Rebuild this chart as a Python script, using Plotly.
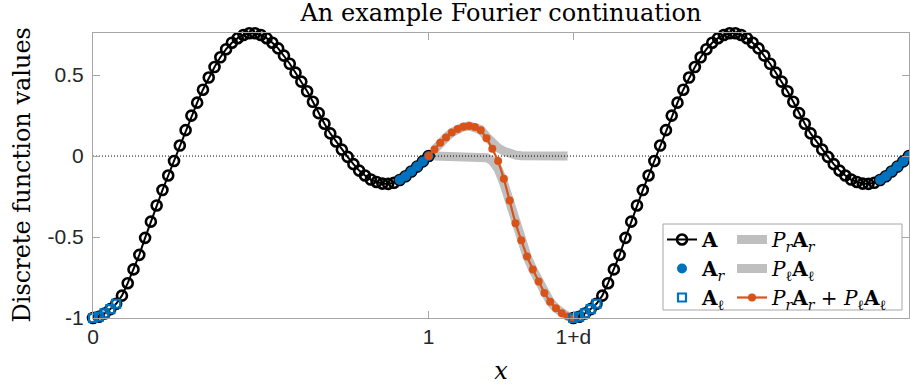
import numpy as np
import plotly.graph_objects as go

# ---- data ----
n_int = 58            # intervals on [0, 1]
n_cont = 25           # intervals on the continuation [1, 1+d]
h = 1.0 / n_int
d = n_cont * h
period = 1.0 + d

A_vals = [-1.000, -0.992, -0.972, -0.945, -0.912, -0.862, -0.785, -0.700, -0.610, -0.505,
          -0.405, -0.305, -0.210, -0.120, -0.030, 0.065, 0.160, 0.250, 0.330, 0.410,
          0.485, 0.550, 0.610, 0.660, 0.700, 0.728, 0.748, 0.758, 0.758, 0.748,
          0.728, 0.700, 0.665, 0.620, 0.570, 0.515, 0.460, 0.400, 0.335, 0.265,
          0.200, 0.140, 0.090, 0.040, -0.005, -0.050, -0.090, -0.120, -0.145, -0.160,
          -0.170, -0.172, -0.165, -0.148, -0.125, -0.095, -0.065, -0.033, 0.000]

sum_vals = [0.000, 0.040, 0.083, 0.114, 0.145, 0.167, 0.181, 0.186, 0.180, 0.160,
            0.110, 0.045, -0.030, -0.140, -0.275, -0.415, -0.520, -0.620, -0.700, -0.775,
            -0.845, -0.900, -0.940, -0.970, -0.990, -1.000]

PrAr_vals = [0.040, 0.083, 0.114, 0.145, 0.167, 0.181, 0.186, 0.181, 0.163, 0.120,
             0.075, 0.050, 0.030, 0.015, 0.006, 0.002, 0.0, 0.0, 0.0, 0.0,
             0.0, 0.0, 0.0, 0.0]

PlAl_vals = [0.0, 0.0, 0.0, 0.0, 0.0, 0.0, 0.0, -0.001, -0.003, -0.010,
             -0.030, -0.080, -0.170, -0.290, -0.421, -0.522, -0.620, -0.700, -0.775, -0.845,
             -0.900, -0.940, -0.970, -0.990]

n_r = 6   # matching points at the right end (A_r)
n_l = 5   # matching points at the left end (A_l)

x_ticks = [0, 1, 1 + d]
x_ticktext = ["0", "1", "1+d"]
y_ticks = [-1, -0.5, 0, 0.5]
y_ticktext = ["-1", "-0.5", "0", "0.5"]

# ---- grids ----
x_A = np.arange(n_int + 1) * h
x_sum = 1 + np.arange(n_cont + 1) * h
x_P = 1 + np.arange(1, n_cont) * h

def two_periods(x, y):
    xs = list(x) + [None] + list(np.asarray(x) + period)
    ys = list(y) + [None] + list(y)
    return xs, ys

BLUE = "#0072BD"
ORANGE = "#D95319"
GRAY = "#BFBFBF"
AXC = "#A6A6A6"
SERIF = "DejaVu Serif"
SANS = "Liberation Sans"

fig = go.Figure()

# gray projections
fig.add_trace(go.Scatter(x=x_P, y=PrAr_vals, mode="lines", line=dict(color=GRAY, width=9),
                         name="<i>P</i><sub><i>r</i></sub><b>A</b><sub><i>r</i></sub>",
                         legend="legend2", legendgroup="g4", cliponaxis=False))
fig.add_trace(go.Scatter(x=x_P, y=PlAl_vals, mode="lines", line=dict(color=GRAY, width=9),
                         name="<i>P</i><sub>ℓ</sub><b>A</b><sub>ℓ</sub>",
                         legend="legend2", legendgroup="g5", cliponaxis=False))
# zero line
fig.add_trace(go.Scatter(x=[0, 2 + d], y=[0, 0], mode="lines",
                         line=dict(color="black", width=1, dash="1px,2px"),
                         showlegend=False, hoverinfo="skip"))
# A
xa, ya = two_periods(x_A, A_vals)
fig.add_trace(go.Scatter(x=xa, y=ya, mode="lines+markers",
                         line=dict(color="black", width=2),
                         marker=dict(symbol="circle-open", size=10, color="black",
                                     line=dict(width=2.6, color="black")),
                         name="<b>A</b>", legend="legend", legendgroup="g1", cliponaxis=False))
# A_r
xr, yr = two_periods(x_A[-n_r:], A_vals[-n_r:])
fig.add_trace(go.Scatter(x=xr, y=yr, mode="markers",
                         marker=dict(symbol="circle", size=10, color=BLUE),
                         name="<b>A</b><sub><i>r</i></sub>", legend="legend", legendgroup="g2",
                         cliponaxis=False))
# sum
fig.add_trace(go.Scatter(x=x_sum, y=sum_vals, mode="lines+markers",
                         line=dict(color=ORANGE, width=2.2),
                         marker=dict(symbol="circle", size=8, color=ORANGE),
                         name="<i>P</i><sub><i>r</i></sub><b>A</b><sub><i>r</i></sub> + <i>P</i><sub>ℓ</sub><b>A</b><sub>ℓ</sub>",
                         legend="legend2", legendgroup="g6", cliponaxis=False))
# A_l
xl, yl = two_periods(x_A[:n_l], A_vals[:n_l])
fig.add_trace(go.Scatter(x=xl, y=yl, mode="markers",
                         marker=dict(symbol="square-open", size=8, color=BLUE,
                                     line=dict(width=2.2, color=BLUE)),
                         name="<b>A</b><sub>ℓ</sub>", legend="legend", legendgroup="g3",
                         cliponaxis=False))

L, R, T, B = 93, 1, 33, 73
W, H = 910, 391
pw, ph = W - L - R, H - T - B

def px_x(px):
    return (px - L) / pw

def px_y(py):
    return (H - B - py) / ph

legend_common = dict(bgcolor="rgba(0,0,0,0)", borderwidth=0, xanchor="left", yanchor="top",
                     font=dict(family=SERIF, size=20, color="black"), tracegroupgap=1,
                     traceorder="normal")

fig.update_layout(
    width=W, height=H,
    margin=dict(l=L, r=R, t=T, b=B),
    paper_bgcolor="white", plot_bgcolor="white",
    title=dict(text="An example Fourier continuation", x=0.5, xref="paper", xanchor="center",
               y=1 - 13 / H, yref="container", yanchor="middle",
               font=dict(family=SERIF, size=24, color="black")),
    xaxis=dict(range=[0, 2 + d], showline=True, linecolor=AXC, linewidth=1, mirror="ticks",
               ticks="inside", ticklen=7, tickcolor=AXC, tickwidth=1,
               tickvals=x_ticks, ticktext=x_ticktext, showgrid=False, zeroline=False,
               tickfont=dict(family=SANS, size=21, color="#262626"),
               title=dict(text="<i>x</i>", font=dict(family=SERIF, size=24, color="black"),
                          standoff=14)),
    yaxis=dict(range=[-1, 0.76], showline=True, linecolor=AXC, linewidth=1, mirror="ticks",
               ticks="inside", ticklen=7, tickcolor=AXC, tickwidth=1,
               tickvals=y_ticks, ticktext=y_ticktext, showgrid=False, zeroline=False,
               tickfont=dict(family=SANS, size=21, color="#262626"),
               ticklabelstandoff=4),
    annotations=[dict(text="Discrete function values", xref="paper", yref="paper",
                      x=px_x(21), y=0.5, xanchor="center", yanchor="middle",
                      textangle=-90, showarrow=False,
                      font=dict(family=SERIF, size=24, color="black"))],
    showlegend=True,
    legend=dict(x=px_x(662), y=px_y(220), **legend_common),
    legend2=dict(x=px_x(732), y=px_y(220), **legend_common),
    shapes=[dict(type="rect", xref="paper", yref="paper",
                 x0=px_x(663), x1=px_x(902), y0=px_y(310), y1=px_y(224),
                 fillcolor="white", line=dict(color=AXC, width=1), layer="above")],
)

fig.write_html("out.html")
